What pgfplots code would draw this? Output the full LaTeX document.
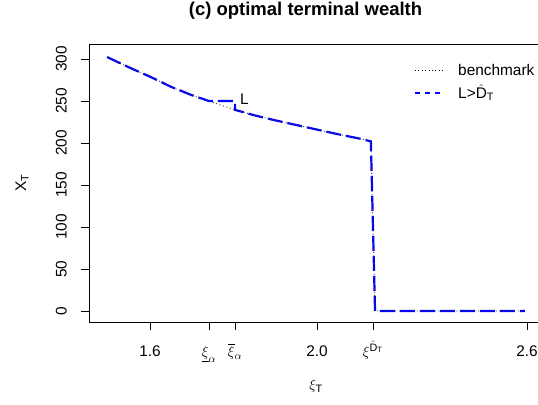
\documentclass[border=0pt]{standalone}
\usepackage{amsmath}
\usepackage{fontspec}
\setmainfont{Liberation Sans}
\usepackage{pgfplots}
\pgfplotsset{compat=1.18}

\definecolor{rblue}{RGB}{0,0,255}

% L > D_T strategy
\pgfplotstableread{
x y
1.497 302.4
1.550 290.0
1.600 279.0
1.650 267.0
1.700 257.0
1.7413 250.0
1.8036 250.0
1.8036 239.5
1.850 233.0
1.900 227.0
1.950 221.5
2.000 216.0
2.050 210.5
2.100 205.5
2.129 202.0
2.139 0.0
2.498 0.0
}\strategy

% benchmark
\pgfplotstableread{
x y
1.497 302.4
1.550 290.0
1.600 279.0
1.650 267.0
1.700 257.0
1.7413 250.0
1.8036 239.5
1.850 233.0
1.900 227.0
1.950 221.5
2.000 216.0
2.050 210.5
2.100 205.5
2.129 202.0
2.139 0.0
2.498 0.0
}\benchmark

\begin{document}
\begin{tikzpicture}
\begin{axis}[
    name=ax,
    scale only axis,
    width=454bp, height=278bp,
    xmin=1.4539, xmax=2.5413,
    ymin=-13.1, ymax=317.9,
    axis line style={line width=0.8bp},
    tick align=outside,
    tick pos=left,
    major tick length=8bp,
    tick style={line width=0.8bp, black},
    xtick={1.6,1.7413,1.8036,2.0,2.1339,2.503},
    xticklabels={1.6,{$\underline{\xi}_{\alpha}$},{$\overline{\xi}_{\alpha}$},2.0,{$\xi^{\hat{\text{D}}_{\text{T}}}$},2.6},
    ytick={0,50,100,150,200,250,300},
    /pgf/number format/assume math mode=true,
    ticklabel style={font=\fontsize{15.4bp}{18bp}\selectfont, inner sep=0pt},
    xticklabel style={anchor=base},
    xticklabel shift=26.5bp,
    yticklabel style={rotate=90, anchor=south},
    yticklabel shift=14bp,
    title={\bfseries (c) optimal terminal wealth},
    title style={font=\fontsize{18.5bp}{22bp}\selectfont, at={(rel axis cs:0.4769,1.0827)}, anchor=base, inner sep=0pt},
    xlabel={$\xi_{\text{T}}$},
    xlabel style={font=\fontsize{15.4bp}{18bp}\selectfont, at={(rel axis cs:0.5,-0.2302)}, anchor=center, inner sep=0pt},
    ylabel={$\text{X}_{\text{T}}$},
    ylabel style={font=\fontsize{15.4bp}{18bp}\selectfont, at={(rel axis cs:-0.1476,0.5)}, anchor=center, rotate=0, inner sep=0pt},
]
\addplot[color=rblue, line width=2.2bp, dash pattern=on 15bp off 5bp] table[x=x, y=y] {\strategy};
\addplot[color=black!75, line width=0.9bp, dash pattern=on 1bp off 2.6bp] table[x=x, y=y] {\benchmark};

\node[font=\fontsize{15.4bp}{18bp}\selectfont, anchor=center] at (axis cs:1.8263,252.4) {L};

% legend, no box
\draw[black, line width=0.8bp, dash pattern=on 1bp off 2.4bp] (rel axis cs:0.7181,0.9065) -- (rel axis cs:0.7841,0.9065);
\draw[rblue, line width=1.4bp, dash pattern=on 5bp off 5bp] (rel axis cs:0.7181,0.8237) -- (rel axis cs:0.7841,0.8237);
\node[font=\fontsize{15.4bp}{18bp}\selectfont, anchor=base west, inner sep=0pt] at (rel axis cs:0.8128,0.8867) {benchmark};
\node[font=\fontsize{15.4bp}{18bp}\selectfont, anchor=base west, inner sep=0pt] at (rel axis cs:0.8128,0.8040) {L>$\hat{\text{D}}_{\text{T}}$};
\end{axis}
\pgfresetboundingbox
\path[use as bounding box] (ax.south west) ++(-89bp,-83bp) rectangle ++(538bp,405bp);
\end{tikzpicture}
\end{document}
